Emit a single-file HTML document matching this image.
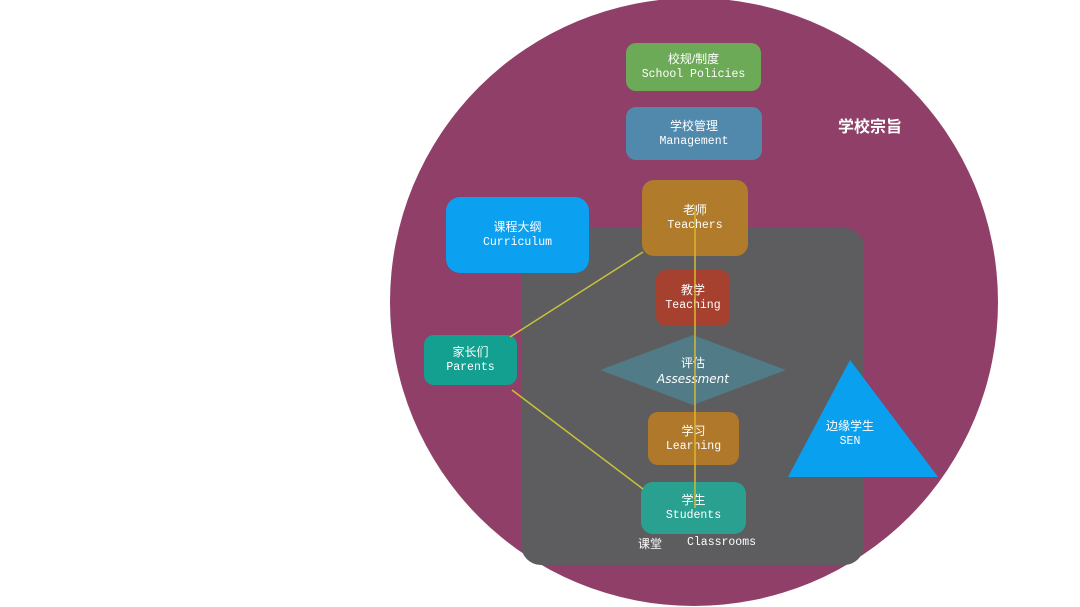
<!DOCTYPE html>
<html><head><meta charset="utf-8"><style>
body{margin:0;width:1080px;height:607px;background:#fff;position:relative;overflow:hidden;font-family:"Liberation Mono","Noto Sans CJK SC",monospace;color:#fff}
.b{position:absolute;border-radius:10px;display:flex;flex-direction:column;align-items:center;justify-content:center;font-size:11.5px;line-height:16px;text-align:center}
.c{font-size:12px;font-family:"Liberation Sans","Noto Sans CJK SC",sans-serif}
.t{position:absolute;font-size:12px}
</style></head><body>
<div style="position:absolute;left:390px;top:-2px;width:608px;height:608px;border-radius:50%;background:#8f3f68"></div>
<div style="position:absolute;left:521px;top:228px;width:343px;height:337px;border-radius:20px;background:#5d5c5f"></div>
<div class="b" style="left:626px;top:43px;width:135px;height:48px;background:#6caa58"><span class="c">校规/制度</span><span>School Policies</span></div>
<div class="b" style="left:626px;top:107px;width:136px;height:53px;background:#5189ac"><span class="c">学校管理</span><span>Management</span></div>
<div class="b" style="left:642px;top:180px;width:106px;height:76px;background:#b07b2b;border-radius:12px"><span class="c">老师</span><span>Teachers</span></div>
<div class="b" style="left:446px;top:197px;width:143px;height:76px;background:#0ba0f0;border-radius:14px"><span class="c">课程大纲</span><span>Curriculum</span></div>
<div class="b" style="left:656px;top:270px;width:74px;height:56px;background:#a6402f"><span class="c">教学</span><span>Teaching</span></div>
<svg style="position:absolute;left:0;top:0" width="1080" height="607">
<polygon points="600,370 693,335 786,370 693,405" fill="#507b87"/>
<polygon points="850,360 788,477 938,477" fill="#0aa0f0"/>
</svg>
<div class="b" style="left:424px;top:335px;width:93px;height:50px;background:#13a090"><span class="c">家长们</span><span>Parents</span></div>
<div class="b" style="left:648px;top:412px;width:91px;height:53px;background:#b0782b"><span class="c">学习</span><span>Learning</span></div>
<div class="b" style="left:641px;top:482px;width:105px;height:52px;background:#2aa190;border-radius:12px"><span class="c">学生</span><span>Students</span></div>
<div class="b" style="left:640px;top:352px;width:106px;height:38px"><span class="c">评估</span><span style="font-family:'DejaVu Sans',sans-serif;font-style:italic;font-size:12px">Assessment</span></div>
<div class="b" style="left:800px;top:417px;width:100px;height:34px"><span class="c">边缘学生</span><span>SEN</span></div>
<svg style="position:absolute;left:0;top:0" width="1080" height="607">
<line x1="510" y1="337" x2="643" y2="252" stroke="#c8c23a" stroke-width="1.5"/>
<line x1="512" y1="390" x2="643" y2="489" stroke="#c8c23a" stroke-width="1.5"/>
<line x1="695" y1="205" x2="695" y2="508" stroke="#d8b830" stroke-width="1.5"/>
</svg>
<div class="t c" style="left:638px;top:535px">课堂</div>
<div class="t" style="left:687px;top:536px;font-size:11.5px">Classrooms</div>
<div class="t c" style="left:838px;top:113px;font-size:16px;font-weight:bold">学校宗旨</div>
</body></html>
